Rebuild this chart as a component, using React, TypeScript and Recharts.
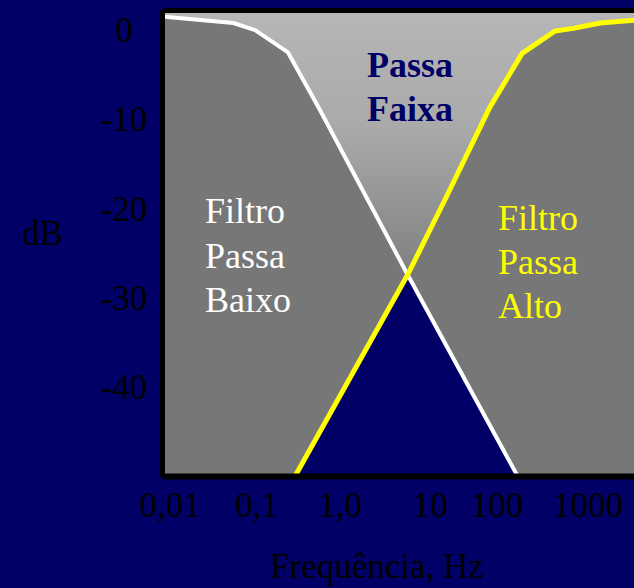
import * as React from 'react';
import {
	ComposedChart,
	Area,
	Line,
	XAxis,
	YAxis,
	CartesianGrid,
	ReferenceLine,
} from 'recharts';

// x is the drawn position in decades (0,01 Hz = -2), y is dB
const freqTicks = [-2, -1, -0.04, 1.0, 1.77, 2.82];
const freqLabels = ['0,01', '0,1', '1,0', '10', '100', '1000'];
const dbTicks = [0, -10, -20, -30, -40];

const lowPassX = [-2.06, -1.27, -1.02, -0.64, -0.29, 0.74, 2.01];
const lowPassDb = [1.5, 0.8, 0, -2.5, -8.6, -27.4, -50];

const highPassX = [-0.56, 0.74, 1.17, 1.69, 2.06, 2.44, 2.65, 2.96, 3.35];
const highPassDb = [-50, -27.4, -19, -8.6, -2.6, -0.1, 0.2, 0.8, 1.1];

const X_MIN = -2.087;
const X_MAX = 3.35;
const DB_MIN = -50;
const DB_MAX = 2.2;
const CROSS_X = 0.74;

const NAVY = '#000066';
const GRAY = '#777777';
const SERIF = "'Liberation Serif', 'Times New Roman', serif";

const toPoints = (xs: number[], ys: number[]) => xs.map((f, i) => ({ f, db: ys[i] }));

const lowPass = toPoints(lowPassX, lowPassDb);
const highPass = toPoints(highPassX, highPassDb);
// region under both curves: high pass up to the crossing, then low pass
const underBoth = [
	...highPass.filter((p) => p.f <= CROSS_X),
	...lowPass.filter((p) => p.f > CROSS_X),
];

const YTick = (props: any) => {
	const { x, y, payload } = props;
	return (
		<text x={x} y={y} dx={-38.5} dy={12} textAnchor='middle' fill='#000' fontFamily={SERIF} fontSize={35}>
			{payload.value}
		</text>
	);
};

const XTick = (props: any) => {
	const { x, y, payload, index } = props;
	return (
		<text x={x} y={y} dy={40.5} textAnchor='middle' fill='#000' fontFamily={SERIF} fontSize={35}>
			{freqLabels[index] ?? payload.value}
		</text>
	);
};

export default function App() {
	return (
		<div
			style={{
				position: 'absolute',
				left: 0,
				top: 0,
				width: 634,
				height: 588,
				background: NAVY,
				overflow: 'hidden',
			}}
		>
			<ComposedChart width={634} height={588} margin={{ top: 10.5, right: 0, bottom: 0, left: 0 }}>
				<defs>
					<linearGradient id='bandGrad' x1='0' y1='0' x2='0' y2='1'>
						<stop offset='0%' stopColor='#b6b6b6' />
						<stop offset='25%' stopColor='#aaaaaa' />
						<stop offset='55%' stopColor='#828282' />
						<stop offset='100%' stopColor={GRAY} />
					</linearGradient>
				</defs>
				<CartesianGrid horizontal={false} vertical={false} fill='url(#bandGrad)' fillOpacity={1} />
				<XAxis
					type='number'
					dataKey='f'
					domain={[X_MIN, X_MAX]}
					ticks={freqTicks}
					allowDataOverflow
					height={111.5}
					tickSize={0}
					tickMargin={0}
					axisLine={false}
					tick={<XTick />}
				/>
				<YAxis
					type='number'
					dataKey='db'
					domain={[DB_MIN, DB_MAX]}
					ticks={dbTicks}
					allowDataOverflow
					width={162.5}
					tickSize={0}
					tickMargin={0}
					axisLine={false}
					tick={<YTick />}
				/>
				<Area
					data={lowPass}
					dataKey='db'
					type='linear'
					baseValue={DB_MIN}
					fill={GRAY}
					fillOpacity={1}
					stroke='none'
					isAnimationActive={false}
				/>
				<Area
					data={highPass}
					dataKey='db'
					type='linear'
					baseValue={DB_MIN}
					fill={GRAY}
					fillOpacity={1}
					stroke='none'
					isAnimationActive={false}
				/>
				<Area
					data={underBoth}
					dataKey='db'
					type='linear'
					baseValue={DB_MIN}
					fill={NAVY}
					fillOpacity={1}
					stroke='none'
					isAnimationActive={false}
				/>
				<Line
					data={lowPass}
					dataKey='db'
					type='linear'
					stroke='#ffffff'
					strokeWidth={4}
					strokeLinecap='round'
					strokeLinejoin='round'
					dot={false}
					activeDot={false}
					isAnimationActive={false}
				/>
				<Line
					data={highPass}
					dataKey='db'
					type='linear'
					stroke='#ffff00'
					strokeWidth={5}
					strokeLinecap='round'
					strokeLinejoin='round'
					dot={false}
					activeDot={false}
					isAnimationActive={false}
				/>
				<ReferenceLine x={X_MIN} stroke='#000' strokeWidth={5} />
				<ReferenceLine y={DB_MAX} stroke='#000' strokeWidth={5} />
				<ReferenceLine y={DB_MIN} stroke='#000' strokeWidth={6} />
			</ComposedChart>

			{/* annotations drawn over the chart */}
			<svg
				width={634}
				height={588}
				style={{ position: 'absolute', left: 0, top: 0, pointerEvents: 'none' }}
			>
				<text textAnchor='middle' fill={NAVY} fontFamily={SERIF} fontSize={36} fontWeight='bold'>
					<tspan x={410} y={77}>Passa</tspan>
					<tspan x={410} y={121}>Faixa</tspan>
				</text>
				<text fill='#ffffff' fontFamily={SERIF} fontSize={36}>
					<tspan x={205} y={223}>Filtro</tspan>
					<tspan x={205} y={268}>Passa</tspan>
					<tspan x={205} y={312}>Baixo</tspan>
				</text>
				<text fill='#ffff00' fontFamily={SERIF} fontSize={36}>
					<tspan x={498} y={230}>Filtro</tspan>
					<tspan x={498} y={274}>Passa</tspan>
					<tspan x={498} y={318}>Alto</tspan>
				</text>
				<text x={22} y={245} fill='#000' fontFamily={SERIF} fontSize={35}>
					dB
				</text>
				<text x={377} y={578} textAnchor='middle' fill='#000' fontFamily={SERIF} fontSize={35}>
					Frequência, Hz
				</text>
			</svg>
		</div>
	);
}
